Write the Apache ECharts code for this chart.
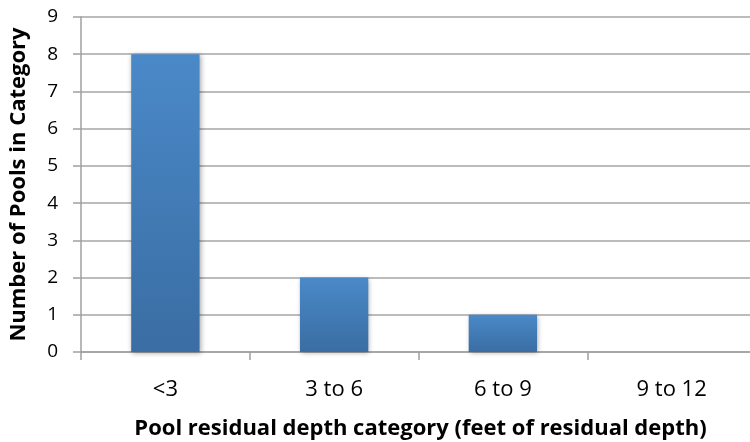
<!DOCTYPE html>
<html><head><meta charset="utf-8">
<script src="https://cdn.jsdelivr.net/npm/echarts@6/dist/echarts.min.js"></script>
<style>html,body{margin:0;padding:0;background:#fff}#c{width:750px;height:442px}</style>
</head><body><div id="c"></div>
<script>
const categories = ['<3', '3 to 6', '6 to 9', '9 to 12'];
const poolCounts = [8, 2, 1, 0];
const xTitle = 'Pool residual depth category (feet of residual depth)';
const yTitle = 'Number of Pools in Category';

const chart = echarts.init(document.getElementById('c'));
chart.setOption({
  animation: false,
  textStyle: { fontFamily: 'Open Sans', color: '#000' },
  grid: { left: 81, right: -6, top: 17, bottom: 90, containLabel: false, outerBoundsMode: 'none' },
  xAxis: {
    type: 'category', data: categories,
    axisLine: { lineStyle: { color: '#a0a0a0', width: 1.5 } },
    axisTick: { show: true, length: 8, lineStyle: { color: '#a0a0a0', width: 1.5 } },
    axisLabel: { color: '#000', fontSize: 22, fontFamily: 'Open Sans', margin: 27 },
    name: xTitle, nameLocation: 'middle', nameGap: 66,
    nameTextStyle: { color: '#000', fontSize: 22, fontWeight: 'bold', fontFamily: 'Open Sans', padding: [0, 0, 0, 4] }
  },
  yAxis: {
    type: 'value', min: 0, max: 9, interval: 1,
    axisLine: { show: true, lineStyle: { color: '#a0a0a0', width: 1.5 } },
    axisTick: { show: true, length: 8, lineStyle: { color: '#a0a0a0', width: 1.5 } },
    splitLine: { lineStyle: { color: '#a6a6a6', width: 1.5 } },
    axisLabel: { color: '#000', fontSize: 19, fontFamily: 'Open Sans', margin: 23 },
    name: yTitle, nameLocation: 'middle', nameGap: 51, nameRotate: 90,
    nameTextStyle: { color: '#000', fontSize: 22, fontWeight: 'bold', fontFamily: 'Open Sans' }
  },
  series: [{
    type: 'bar', data: poolCounts, barWidth: '40.5%',
    itemStyle: {
      color: new echarts.graphic.LinearGradient(0, 0, 0, 1, [
        { offset: 0, color: '#4a89c8' }, { offset: 1, color: '#3a6da3' }
      ]),
      shadowColor: 'rgba(0,0,0,0.35)', shadowBlur: 5, shadowOffsetX: 1, shadowOffsetY: 1
    }
  }]
});
</script></body></html>
